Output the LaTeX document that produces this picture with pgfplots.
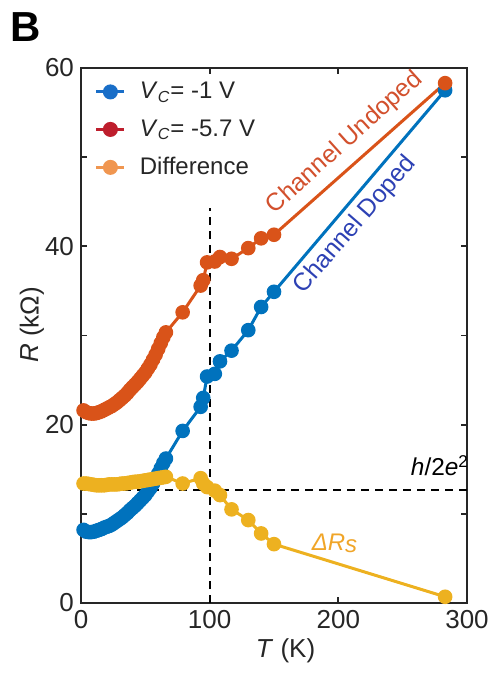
\documentclass[border=0pt]{standalone}
\usepackage{fontspec}
\setmainfont{Liberation Sans}
\usepackage{pgfplots}
\pgfplotsset{compat=1.18}
\definecolor{mblue}{RGB}{0,114,189}
\definecolor{mred}{RGB}{217,83,25}
\definecolor{myel}{RGB}{237,177,32}
\definecolor{lblue}{RGB}{25,110,200}
\definecolor{lred}{RGB}{190,30,45}
\definecolor{lorange}{RGB}{240,150,80}
\definecolor{tblue}{RGB}{45,65,180}
\definecolor{tred}{RGB}{210,80,45}
\definecolor{tyel}{RGB}{240,165,40}
\begin{document}
\begin{tikzpicture}
\path[use as bounding box] (-40.5pt,-35.5pt) rectangle (204pt,301.5pt);
\node[font=\bfseries\fontsize{21}{24}\selectfont] at (-27.5pt,288pt) {B};
\begin{axis}[at={(0pt,0pt)}, anchor=south west, scale only axis,
  width=193pt, height=267.5pt,
  xmin=0, xmax=300, ymin=0, ymax=60,
  xtick={0,100,200,300}, ytick={0,10,...,60}, yticklabels={0,,20,,40,,60},
  tick align=inside, major tick length=3pt,
  axis line style={line width=0.9pt, black!85},
  every tick/.style={line width=0.9pt, black!85},
  tick label style={font=\fontsize{13}{15}\selectfont, text=black!85},
  /pgf/number format/assume math mode=true,
  xlabel={\textit{T} (K)}, ylabel={\textit{R} (kΩ)},
  xlabel style={at={(axis description cs:0.53,-0.09)}, anchor=center, font=\fontsize{13}{15}\selectfont, text=black!85},
  ylabel style={at={(axis description cs:-0.127,0.52)}, rotate=0, anchor=center, font=\fontsize{13}{15}\selectfont, text=black!85},
  clip=false,
  legend cell align=left,
  legend style={draw=none, fill=none, at={(axis description cs:0.035,0.978)}, anchor=north west,
    font=\fontsize{12}{14}\selectfont, row sep=7pt, inner sep=0pt,
    nodes={inner sep=1pt, text=black!85},
    /tikz/every odd column/.append style={column sep=6pt}},
  legend image code/.code={\draw[mark repeat=2, mark phase=2, #1] plot coordinates {(0pt,0pt) (7pt,0pt) (14pt,0pt)};},
  every axis plot/.append style={line width=1.5pt},
]
\addlegendimage{lblue, mark=*, mark size=3pt, mark options={solid, fill=lblue}}
\addlegendentry{\textit{V}\textsubscript{\textit{C}}= -1 V}
\addlegendimage{lred, mark=*, mark size=3pt, mark options={solid, fill=lred}}
\addlegendentry{\textit{V}\textsubscript{\textit{C}}= -5.7 V}
\addlegendimage{lorange, mark=*, mark size=3pt, mark options={solid, fill=lorange}}
\addlegendentry{Difference}

% V_c = -1 V (channel doped)
\addplot[mblue, mark=*, mark size=2.9pt, mark options={solid, fill=mblue}, forget plot] coordinates {
(2,8.2)(4,8.0)(6,7.95)(8,7.95)(10,8.0)(12,8.1)(14,8.2)(16,8.3)(18,8.45)(20,8.55)(22,8.65)(24,8.8)(26,9.0)(28,9.2)(30,9.4)(32,9.6)(34,9.85)(36,10.1)(38,10.4)(40,10.65)(42,10.9)(44,11.2)(46,11.5)(48,11.8)(50,12.1)(52,12.5)(54,12.9)(56,13.4)(58,13.9)(60,14.5)(62,15.1)(64,15.7)(66,16.2)(79,19.3)(93,22.0)(95,23.0)(98,25.4)(104,25.7)(108,27.1)(117,28.3)(130,30.6)(140,33.2)(150,34.9)(283,57.5)
};
% V_c = -5.7 V (channel undoped)
\addplot[mred, mark=*, mark size=2.9pt, mark options={solid, fill=mred}, forget plot] coordinates {
(2,21.6)(4,21.4)(6,21.3)(8,21.25)(10,21.25)(12,21.3)(14,21.4)(16,21.5)(18,21.65)(20,21.8)(22,21.95)(24,22.1)(26,22.3)(28,22.5)(30,22.75)(32,23.0)(34,23.25)(36,23.55)(38,23.9)(40,24.2)(42,24.5)(44,24.8)(46,25.15)(48,25.5)(50,25.85)(52,26.3)(54,26.75)(56,27.3)(58,27.85)(60,28.5)(62,29.15)(64,29.8)(66,30.35)(79,32.6)(93,35.6)(95,36.2)(98,38.2)(104,38.3)(108,38.8)(117,38.6)(130,39.8)(140,40.9)(150,41.3)(283,58.3)
};
% Difference
\addplot[myel, mark=*, mark size=2.9pt, mark options={solid, fill=myel}, forget plot] coordinates {
(2,13.4)(4,13.4)(6,13.35)(8,13.3)(10,13.25)(12,13.2)(14,13.2)(16,13.2)(18,13.2)(20,13.25)(22,13.3)(24,13.3)(26,13.3)(28,13.3)(30,13.35)(32,13.4)(34,13.4)(36,13.45)(38,13.5)(40,13.55)(42,13.6)(44,13.6)(46,13.65)(48,13.7)(50,13.75)(52,13.8)(54,13.85)(56,13.9)(58,13.95)(60,14.0)(62,14.05)(64,14.1)(66,14.15)(79,13.4)(93,14.0)(95,13.4)(98,13.0)(104,12.6)(108,12.1)(117,10.5)(130,9.3)(140,7.8)(150,6.6)(283,0.7)
};
% dashed guide lines
\addplot[black, line width=1.1pt, dash pattern=on 4pt off 3pt, forget plot] coordinates {(100,0)(100,44.3)};
\addplot[black, line width=1.1pt, dash pattern=on 4pt off 3pt, forget plot] coordinates {(0,12.7)(300,12.7)};

\node[rotate=42, text=tred, font=\fontsize{12.4}{14}\selectfont] at (axis cs:205,51.6) {Channel Undoped};
\node[rotate=49, text=tblue, font=\fontsize{12.4}{14}\selectfont] at (axis cs:213,42.4) {Channel Doped};
\node[text=black, font=\fontsize{12.2}{14}\selectfont] at (axis cs:279,15.4) {\textit{h}/2\textit{e}\textsuperscript{2}};
\node[text=tyel, font=\fontsize{12}{14}\selectfont] at (axis cs:197,6.7) {\textit{ΔR}\raisebox{-0.2ex}{\textit{s}}};
\end{axis}
\end{tikzpicture}
\end{document}
